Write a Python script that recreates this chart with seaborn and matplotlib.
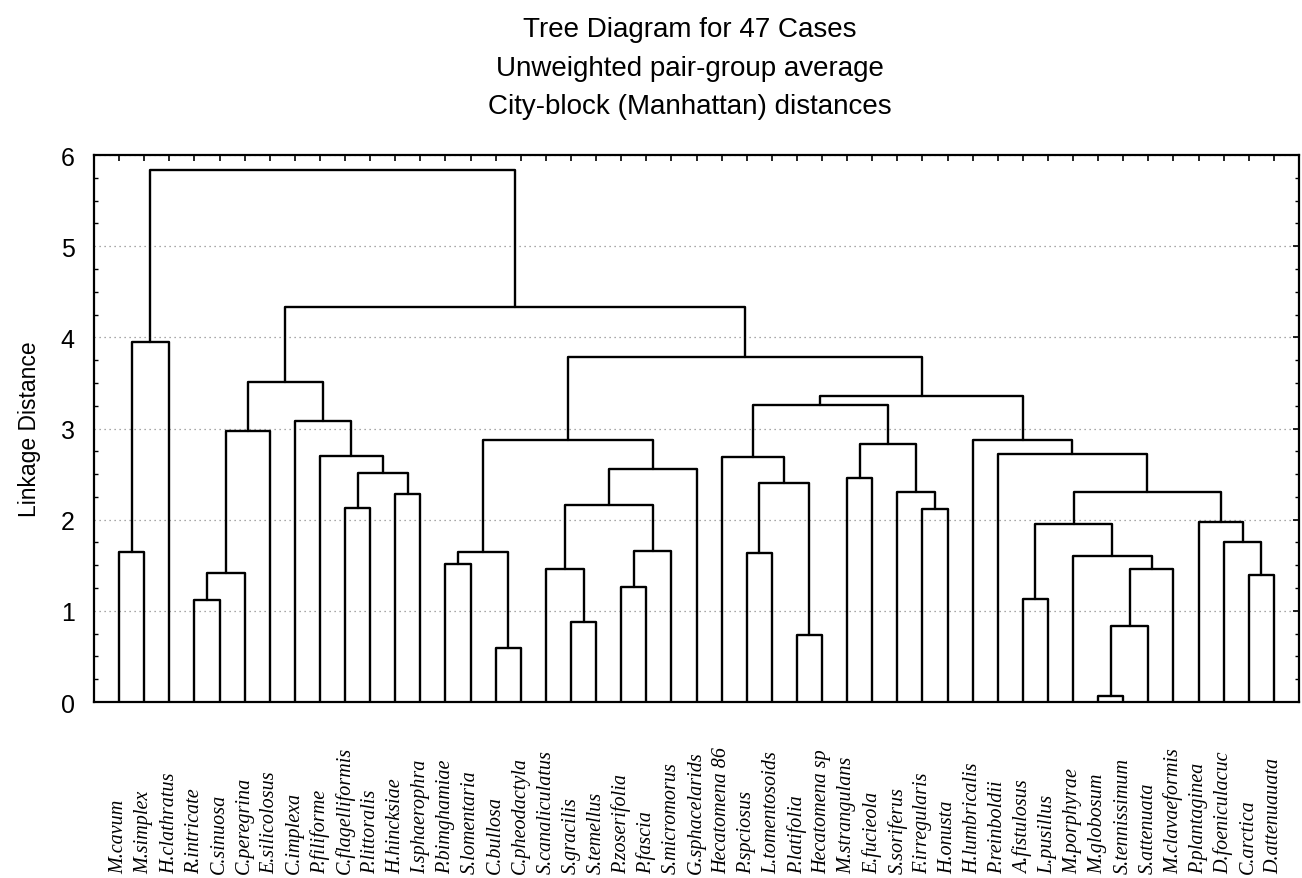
import pandas as pd
import seaborn as sns
import matplotlib.pyplot as plt
from matplotlib.ticker import MultipleLocator
from matplotlib.transforms import blended_transform_factory

especies = ['M.cavum', 'M.simplex', 'H.clathratus', 'R.intricate', 'C.sinuosa',
            'C.peregrina', 'E.silicolosus', 'C.implexa', 'P.filiforme',
            'C.flagelliformis', 'P.littoralis', 'H.hincksiae', 'I.sphaerophra',
            'P.bimghamiae', 'S.lomentaria', 'C.bullosa', 'C.pheodactyla',
            'S.canaliculatus', 'S.gracilis', 'S.temellus', 'P.zoserifolia',
            'P.fascia', 'S.micromorus', 'G.sphacelarids', 'Hecatomena 86',
            'P.spciosus', 'L.tomentosoids', 'P.latifolia', 'Hecatomena sp',
            'M.strangulans', 'E.fucieola', 'S.soriferus', 'F.irregularis',
            'H.onusta', 'H.lumbricalis', 'P.reinboldii', 'A.fistulosus',
            'L.pusillus', 'M.porphyrae', 'M.globosum', 'S.tennissimum',
            'S.attenuata', 'M.clavaeformis', 'P.plantaginea', 'D.foeniculacuc',
            'C.arctica', 'D.attenuauata']

# uniones (estilo linkage): hojas 0..46, el nodo 47+k es la union k
izq = [0, 47, 3, 49, 50, 9, 11, 52, 8, 7, 51, 13, 15, 58, 18, 17, 20, 63, 62, 65,
       60, 25, 27, 68, 24, 29, 32, 31, 72, 71, 36, 39, 78, 79, 38, 77, 45, 44, 43,
       82, 35, 34, 76, 67, 57, 48]
der = [1, 2, 4, 5, 6, 10, 12, 53, 54, 55, 56, 14, 16, 59, 19, 61, 21, 22, 64, 23,
       66, 26, 28, 69, 70, 30, 33, 73, 74, 75, 37, 40, 41, 42, 80, 81, 46, 83, 84,
       85, 86, 87, 88, 89, 90, 91]
altura = [1.65, 3.95, 1.12, 1.42, 2.97, 2.13, 2.28, 2.51, 2.70, 3.08, 3.51,
          1.51, 0.59, 1.65, 0.88, 1.46, 1.26, 1.66, 2.16, 2.56, 2.87,
          1.64, 0.73, 2.40, 2.69, 2.46, 2.12, 2.30, 2.83, 3.26,
          1.13, 0.07, 0.83, 1.46, 1.60, 1.95, 1.39, 1.75, 1.98, 2.30, 2.72, 2.87,
          3.36, 3.79, 4.33, 5.84]

sns.set_style('white')
plt.rcParams['font.family'] = ['Liberation Sans', 'DejaVu Sans']
plt.rcParams['text.color'] = 'black'
plt.rcParams['axes.labelcolor'] = 'black'
plt.rcParams['xtick.color'] = 'black'
plt.rcParams['ytick.color'] = 'black'

n = len(especies)
pos = {i: float(i) for i in range(n)}
alt = {i: 0.0 for i in range(n)}
filas = []
for k, (a, b, h) in enumerate(zip(izq, der, altura)):
    nodo = n + k
    xa, xb = pos[a], pos[b]
    for x, y in [(xa, alt[a]), (xa, h), (xb, h), (xb, alt[b])]:
        filas.append({'enlace': nodo, 'x': x, 'y': y})
    pos[nodo] = (xa + xb) / 2
    alt[nodo] = h
df = pd.DataFrame(filas)

fig = plt.figure(figsize=(13.02, 8.79), dpi=100)
ax = fig.add_axes([0.0722, 0.2002, 0.9255, 0.6223])
ax.set_axisbelow(True)
ax.yaxis.grid(True, linestyle=(0, (1, 3)), color='#8a8a8a', linewidth=0.9)
ax.xaxis.grid(False)

sns.lineplot(data=df, x='x', y='y', units='enlace', estimator=None, sort=False,
             color='black', linewidth=1.7, ax=ax, legend=False)

ax.set_xlim(-1, n)
ax.set_ylim(0, 6)
ax.set_xlabel('')
ax.set_ylabel('Linkage Distance', fontsize=16.5, labelpad=14)

ax.set_xticks(range(n))
ax.set_xticklabels([])
ax.tick_params(axis='x', direction='in', length=4, width=1.2, top=True, bottom=False,
               labeltop=False, labelbottom=False)
ax.set_yticks(range(7))
ax.yaxis.set_minor_locator(MultipleLocator(0.25))
ax.tick_params(axis='y', which='major', direction='in', length=4, width=1.2,
               left=False, right=True, labelsize=18, pad=14)
ax.tick_params(axis='y', which='minor', direction='in', length=3, width=1,
               left=True, right=True)
for s in ax.spines.values():
    s.set_color('black')
    s.set_linewidth(1.6)

trans = blended_transform_factory(ax.transData, fig.transFigure)
for i, nombre in enumerate(especies):
    ax.text(i, 0.006, nombre, rotation=90, ha='center', va='bottom', transform=trans,
            family='Liberation Serif', style='italic', fontsize=14.5, clip_on=False)

titulos = ['Tree Diagram for 47 Cases', 'Unweighted pair-group average',
           'City-block (Manhattan) distances']
for j, t in enumerate(titulos):
    fig.text(0.530, 1 - (30 + 38.5 * j) / 879, t, ha='center', va='center', fontsize=20)

fig.savefig('out.png', dpi=100)
plt.close()
